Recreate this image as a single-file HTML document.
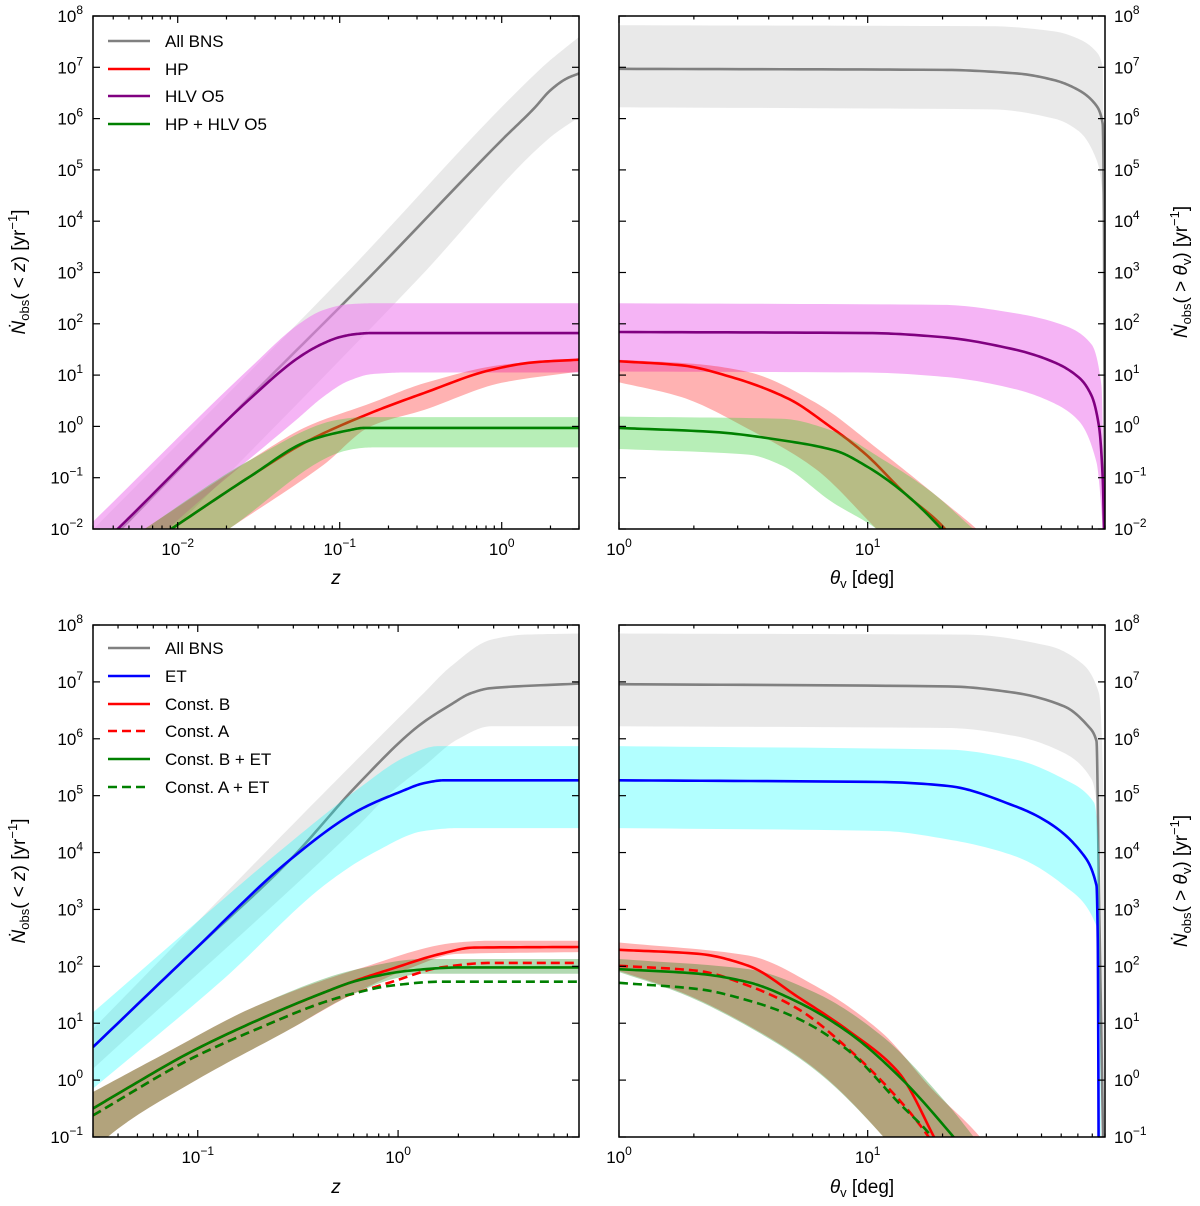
<!DOCTYPE html>
<html><head><meta charset="utf-8">
<style>
html,body{margin:0;padding:0;background:#fff;}
svg{display:block;font-family:"Liberation Sans","DejaVu Sans",sans-serif;}
</style></head>
<body>
<svg id="fig" xmlns="http://www.w3.org/2000/svg" width="1200" height="1206" viewBox="0 0 1200 1206">
<rect x="0" y="0" width="1200" height="1206" fill="#fff"/>
<g id="layer"></g>
<!-- axis titles -->
<g font-size="19" fill="#000">
 <text x="336" y="584" text-anchor="middle" font-style="italic">z</text>
 <text x="862" y="584" text-anchor="middle"><tspan font-style="italic">θ</tspan><tspan font-size="13" dy="4">v</tspan><tspan dy="-4"> [deg]</tspan></text>
 <text x="336" y="1193" text-anchor="middle" font-style="italic">z</text>
 <text x="862" y="1193" text-anchor="middle"><tspan font-style="italic">θ</tspan><tspan font-size="13" dy="4">v</tspan><tspan dy="-4"> [deg]</tspan></text>
 <text transform="translate(25,272) rotate(-90)" text-anchor="middle"><tspan font-style="italic">Ṅ</tspan><tspan font-size="13" dy="4">obs</tspan><tspan dy="-4">( &lt; </tspan><tspan font-style="italic">z</tspan><tspan>) [yr</tspan><tspan font-size="13" dy="-8">−1</tspan><tspan dy="8">]</tspan></text>
 <text transform="translate(25,881) rotate(-90)" text-anchor="middle"><tspan font-style="italic">Ṅ</tspan><tspan font-size="13" dy="4">obs</tspan><tspan dy="-4">( &lt; </tspan><tspan font-style="italic">z</tspan><tspan>) [yr</tspan><tspan font-size="13" dy="-8">−1</tspan><tspan dy="8">]</tspan></text>
 <text transform="translate(1187,272) rotate(-90)" text-anchor="middle"><tspan font-style="italic">Ṅ</tspan><tspan font-size="13" dy="4">obs</tspan><tspan dy="-4">( &gt; </tspan><tspan font-style="italic">θ</tspan><tspan font-size="13" dy="4">v</tspan><tspan dy="-4">) [yr</tspan><tspan font-size="13" dy="-8">−1</tspan><tspan dy="8">]</tspan></text>
 <text transform="translate(1187,881) rotate(-90)" text-anchor="middle"><tspan font-style="italic">Ṅ</tspan><tspan font-size="13" dy="4">obs</tspan><tspan dy="-4">( &gt; </tspan><tspan font-style="italic">θ</tspan><tspan font-size="13" dy="4">v</tspan><tspan dy="-4">) [yr</tspan><tspan font-size="13" dy="-8">−1</tspan><tspan dy="8">]</tspan></text>
</g>
<!-- legends -->
<g font-size="17" fill="#000" stroke-width="2.6">
 <g><line x1="108" x2="150" y1="41" y2="41" stroke="#808080"/><text x="165" y="47">All BNS</text></g>
 <g><line x1="108" x2="150" y1="69" y2="69" stroke="#ff0000"/><text x="165" y="75">HP</text></g>
 <g><line x1="108" x2="150" y1="96" y2="96" stroke="#800080"/><text x="165" y="102">HLV O5</text></g>
 <g><line x1="108" x2="150" y1="124" y2="124" stroke="#008000"/><text x="165" y="130">HP + HLV O5</text></g>
</g>
<g font-size="17" fill="#000" stroke-width="2.6">
 <g><line x1="108" x2="150" y1="648" y2="648" stroke="#808080"/><text x="165" y="654">All BNS</text></g>
 <g><line x1="108" x2="150" y1="676" y2="676" stroke="#0000ff"/><text x="165" y="682">ET</text></g>
 <g><line x1="108" x2="150" y1="704" y2="704" stroke="#ff0000"/><text x="165" y="710">Const. B</text></g>
 <g><line x1="108" x2="150" y1="731" y2="731" stroke="#ff0000" stroke-dasharray="9,5"/><text x="165" y="737">Const. A</text></g>
 <g><line x1="108" x2="150" y1="759" y2="759" stroke="#008000"/><text x="165" y="765">Const. B + ET</text></g>
 <g><line x1="108" x2="150" y1="787" y2="787" stroke="#008000" stroke-dasharray="9,5"/><text x="165" y="793">Const. A + ET</text></g>
</g>
</svg>
<script>
// ---------------- DATA (log10 values) ----------------
// Top-left: x = log10 z, y = log10 N
const tlGrayX=[-2.52,-1.53,-0.828,0.0,0.2,0.3,0.4,0.477];
const tlGrayY=[-2.55,0.65,2.87,5.58,6.2,6.55,6.78,6.88];
const tlGrayUpX=[-2.52,-0.994,0.25,0.397,0.477];
const tlGrayUpY=[-2.0,2.87,7.0,7.39,7.59];
const tlGrayLoX=[-2.52,-0.517,0.29,0.477];
const tlGrayLoY=[-3.6,2.87,5.61,6.03];
const tlHlvX=[-2.52,-2.374,-1.55,-1.25,-1.1,-1.0,-0.9,-0.8,0.477];
const tlHlvY=[-2.45,-2.01,0.55,1.35,1.62,1.74,1.80,1.82,1.82];
const tlHlvUpX=[-2.52,-1.55,-1.25,-1.1,-0.95,-0.8,0.477];
const tlHlvUpY=[-1.85,1.15,2.0,2.27,2.38,2.4,2.4];
const tlHlvLoX=[-2.52,-2.065,-1.26,-1.1,-0.95,-0.8,-0.6,0.477];
const tlHlvLoY=[-3.4,-2.01,0.15,0.58,0.88,1.02,1.05,1.05];
const tlHpX=[-2.52,-2.045,-1.55,-1.2,-0.81,-0.48,-0.067,0.2,0.477];
const tlHpY=[-3.0,-2.01,-0.97,-0.29,0.26,0.65,1.10,1.25,1.30];
const tlHpUpX=[-2.52,-2.21,-1.55,-1.2,-0.81,-0.48,0,0.477];
const tlHpUpY=[-2.66,-2.01,-0.65,0.0,0.45,0.84,1.2,1.33];
const tlHpLoX=[-2.52,-1.69,-1.1,-0.81,-0.48,0,0.477];
const tlHpLoY=[-3.8,-2.01,-0.75,0.0,0.32,0.85,1.07];
const tlBothX=[-2.52,-2.045,-1.55,-1.2,-0.95,-0.85,0.477];
const tlBothY=[-3.0,-2.01,-0.97,-0.29,-0.08,-0.03,-0.03];
const tlBothUpX=[-2.52,-2.21,-1.55,-1.01,-0.85,0.477];
const tlBothUpY=[-2.66,-2.01,-0.65,0.13,0.18,0.18];
const tlBothLoX=[-2.52,-1.69,-0.93,-0.8,0.477];
const tlBothLoY=[-3.8,-2.01,-0.45,-0.41,-0.41];
// Top-right: x = log10 theta_v
const trGrayX=[0,1.3,1.6,1.75,1.85,1.92,1.945,1.95,1.954];
const trGrayY=[6.97,6.95,6.88,6.75,6.55,6.25,5.9,4,-3];
const trGrayUpX=[0,1.5,1.75,1.85,1.92,1.945,1.954];
const trGrayUpY=[7.82,7.8,7.7,7.55,7.3,7.0,-3];
const trGrayLoX=[0,1.5,1.75,1.85,1.92,1.945,1.954];
const trGrayLoY=[6.22,6.18,6.0,5.75,5.2,4.5,-3];
const trHlvX=[0,1.0,1.3,1.59,1.75,1.85,1.9,1.93,1.945,1.954];
const trHlvY=[1.84,1.82,1.74,1.5,1.25,0.95,0.6,0.0,-1,-3];
const trHlvUpX=[0,1.3,1.6,1.8,1.9,1.94,1.954];
const trHlvUpY=[2.4,2.37,2.2,1.95,1.6,0.8,-3];
const trHlvLoX=[0,1.0,1.32,1.59,1.75,1.85,1.92,1.945,1.954];
const trHlvLoY=[1.07,1.05,0.96,0.73,0.45,0.1,-0.7,-2,-3];
const trHpX=[0,0.252,0.453,0.681,0.842,0.989,1.15,1.311,1.35];
const trHpY=[1.27,1.19,0.96,0.54,0.02,-0.53,-1.31,-2.0,-2.3];
const trHpUpX=[0,0.3,0.52,0.788,1.056,1.324,1.438,1.5];
const trHpUpY=[1.3,1.22,1.06,0.47,-0.5,-1.54,-2,-2.3];
const trHpLoX=[0,0.252,0.52,0.788,1.036,1.1];
const trHpLoY=[0.86,0.57,-0.05,-0.82,-2,-2.3];
const trBothX=[0,0.386,0.654,0.868,1.0,1.15,1.297,1.35];
const trBothY=[-0.03,-0.11,-0.27,-0.47,-0.79,-1.31,-2,-2.3];
const trBothUpX=[0,0.654,0.855,1.056,1.257,1.425,1.5];
const trBothUpY=[0.19,0.15,-0.08,-0.63,-1.28,-2,-2.3];
const trBothLoX=[0,0.52,0.654,0.855,1.036,1.1];
const trBothLoY=[-0.44,-0.55,-0.76,-1.47,-2,-2.3];
// Bottom-left: x = log10 z
const blGrayX=[-1.523,-1.037,-0.537,-0.2,0.1,0.263,0.363,0.463,0.903];
const blGrayY=[0.58,2.22,3.88,5.2,6.22,6.6,6.8,6.89,6.97];
const blGrayUpX=[-1.523,-0.37,0.13,0.263,0.463,0.63,0.903];
const blGrayUpY=[0.9,5.05,6.81,7.27,7.74,7.83,7.85];
const blGrayLoX=[-1.523,-0.2,-0.037,0.13,0.297,0.463,0.903];
const blGrayLoY=[0.2,4.47,5.05,5.52,5.99,6.22,6.22];
const blEtX=[-1.523,-1.037,-0.537,-0.203,0.013,0.13,0.23,0.903];
const blEtY=[0.58,2.22,3.88,4.73,5.07,5.22,5.27,5.27];
const blEtUpX=[-1.523,-0.537,-0.203,0.047,0.197,0.903];
const blEtUpY=[1.19,4.18,5.11,5.70,5.87,5.87];
const blEtLoX=[-1.523,-0.87,-0.37,-0.12,0.13,0.3,0.903];
const blEtLoY=[-0.15,1.78,3.42,4.0,4.38,4.43,4.43];
const blConstBX=[-1.523,-1.37,-1.037,-0.703,-0.37,-0.203,-0.037,0.213,0.38,0.903];
const blConstBY=[-0.5,-0.18,0.49,1.05,1.54,1.76,1.95,2.22,2.33,2.34];
const blConstAX=[-1.523,-1.037,-0.703,-0.37,-0.203,-0.037,0.213,0.463,0.903];
const blConstAY=[-0.62,0.37,0.90,1.37,1.54,1.72,1.98,2.06,2.06];
const blConstBEtX=[-1.523,-1.37,-1.037,-0.703,-0.37,-0.203,0.047,0.3,0.903];
const blConstBEtY=[-0.5,-0.18,0.49,1.05,1.54,1.75,1.92,1.98,1.98];
const blConstAEtX=[-1.523,-1.037,-0.703,-0.37,-0.203,-0.037,0.213,0.903];
const blConstAEtY=[-0.62,0.37,0.90,1.37,1.54,1.66,1.73,1.73];
const blConstBUpX=[-1.523,-1.2,-0.703,-0.203,0.297,0.463,0.903];
const blConstBUpY=[-0.21,0.40,1.31,1.95,2.42,2.45,2.45];
const blConstBLoX=[-1.523,-1.45,-1.037,-0.537,-0.237,0.047,0.3,0.903];
const blConstBLoY=[-1.3,-1.0,-0.06,0.90,1.49,1.95,2.22,2.25];
const blConstBEtUpX=[-1.523,-1.2,-0.703,-0.203,0.13,0.903];
const blConstBEtUpY=[-0.21,0.40,1.31,1.95,2.13,2.13];
const blConstBEtLoX=[-1.523,-1.45,-1.037,-0.537,-0.237,0.0,0.13,0.903];
const blConstBEtLoY=[-1.3,-1.0,-0.06,0.90,1.49,1.8,1.87,1.87];
// Bottom-right: x = log10 theta_v
const brGrayX=[0,1.324,1.59,1.79,1.887,1.92,1.93,1.954];
const brGrayY=[6.96,6.92,6.81,6.57,6.22,5.96,3.3,-3];
const brGrayUpX=[0,1.4,1.73,1.86,1.93,1.948,1.954];
const brGrayUpY=[7.85,7.83,7.63,7.33,6.8,5,-3];
const brGrayLoX=[0,1.324,1.59,1.79,1.9,1.93,1.954];
const brGrayLoY=[6.22,6.19,6.05,5.75,5.29,4.5,-3];
const brEtX=[0,1.056,1.324,1.59,1.726,1.86,1.92,1.925,1.93];
const brEtY=[5.27,5.24,5.17,4.82,4.53,4.0,3.42,2.5,-3];
const brEtUpX=[0,1.324,1.59,1.79,1.91,1.93,1.94];
const brEtUpY=[5.87,5.81,5.64,5.29,4.88,4,-3];
const brEtLoX=[0,1.056,1.324,1.59,1.79,1.92,1.93];
const brEtLoY=[4.43,4.38,4.23,3.94,3.42,2.71,-3];
const brConstBX=[0,0.319,0.52,0.72,0.922,1.123,1.27,1.3];
const brConstBY=[2.29,2.22,2.01,1.46,0.87,0.14,-1.03,-1.3];
const brConstAX=[0,0.319,0.52,0.72,0.922,1.123,1.25,1.3];
const brConstAY=[2.01,1.92,1.66,1.25,0.55,-0.33,-1.03,-1.4];
const brConstBEtX=[0,0.319,0.52,0.72,0.922,1.123,1.351,1.4];
const brConstBEtY=[1.95,1.87,1.72,1.37,0.84,0.08,-1.03,-1.3];
const brConstAEtX=[0,0.319,0.52,0.72,0.922,1.123,1.264,1.3];
const brConstAEtY=[1.71,1.60,1.40,1.08,0.52,-0.39,-1.03,-1.3];
const brConstBUpX=[0,0.52,0.788,1.056,1.257,1.458,1.5];
const brConstBUpY=[2.42,2.19,1.66,0.84,-0.15,-1.03,-1.3];
const brConstBLoX=[0,0.252,0.52,0.788,1.07,1.1];
const brConstBLoY=[1.92,1.54,0.96,0.20,-1.03,-1.2];
const brConstBEtUpX=[0,0.52,0.788,1.056,1.324,1.432,1.5];
const brConstBEtUpY=[2.13,1.95,1.54,0.78,-0.44,-1.03,-1.4];
const brConstBEtLoX=[0,0.252,0.52,0.788,1.07,1.1];
const brConstBEtLoY=[1.90,1.52,0.94,0.18,-1.03,-1.2];
// tick exponents
const topYTicks=[-2,-1,0,1,2,3,4,5,6,7,8];
const botYTicks=[-1,0,1,2,3,4,5,6,7,8];
const tlXTicks=[-2,-1,0];
const blXTicks=[-1,0];
const thXTicks=[0,1];

// ---------------- RENDERING ----------------
const NS='http://www.w3.org/2000/svg';
const layer=document.getElementById('layer');
function mk(tag,attrs,parent){const e=document.createElementNS(NS,tag);for(const k in attrs)e.setAttribute(k,attrs[k]);(parent||layer).appendChild(e);return e;}

const panels={
 tl:{x0:93,x1:579,y0:16,y1:529,lx0:Math.log10(0.003),lx1:Math.log10(3),ly0:-2,ly1:8},
 tr:{x0:619,x1:1105,y0:16,y1:529,lx0:0,lx1:Math.log10(90),ly0:-2,ly1:8},
 bl:{x0:93,x1:579,y0:625,y1:1137,lx0:Math.log10(0.03),lx1:Math.log10(8),ly0:-1,ly1:8},
 br:{x0:619,x1:1105,y0:625,y1:1137,lx0:0,lx1:Math.log10(90),ly0:-1,ly1:8}
};
function sx(p,v){return p.x0+(v-p.lx0)/(p.lx1-p.lx0)*(p.x1-p.x0);}
function sy(p,v){return p.y1-(v-p.ly0)/(p.ly1-p.ly0)*(p.y1-p.y0);}

// PCHIP-style (harmonic mean tangents) interpolation – no overshoot
function smooth(xs,ys){
 const n=xs.length;if(n<3)return xs.map((x,i)=>[x,ys[i]]);
 const d=[],m=new Array(n);
 for(let i=0;i<n-1;i++)d.push((ys[i+1]-ys[i])/(xs[i+1]-xs[i]));
 m[0]=d[0];m[n-1]=d[n-2];
 for(let i=1;i<n-1;i++){m[i]=(d[i-1]*d[i]<=0)?0:2/(1/d[i-1]+1/d[i]);}
 const out=[];
 for(let i=0;i<n-1;i++){
  const h=xs[i+1]-xs[i],N=16;
  for(let k=0;k<N;k++){
   const t=k/N,t2=t*t,t3=t2*t;
   const y=(2*t3-3*t2+1)*ys[i]+(t3-2*t2+t)*h*m[i]+(-2*t3+3*t2)*ys[i+1]+(t3-t2)*h*m[i+1];
   out.push([xs[i]+t*h,y]);
  }
 }
 out.push([xs[n-1],ys[n-1]]);
 return out;
}

const defs=mk('defs',{});
const groups={};
for(const k in panels){
 const p=panels[k];
 const cp=mk('clipPath',{id:'clip-'+k},defs);
 mk('rect',{x:p.x0,y:p.y0,width:p.x1-p.x0,height:p.y1-p.y0},cp);
 const g=mk('g',{'clip-path':'url(#clip-'+k+')'});
 
 
 groups[k]=g;
}
function band(k,ux,uy,lx,ly,fill,name){
 const p=panels[k];let d='';
 const up=smooth(ux,uy),lo=smooth(lx,ly);
 up.forEach((q,i)=>{d+=(i?'L':'M')+sx(p,q[0]).toFixed(2)+','+sy(p,q[1]).toFixed(2);});
 for(let i=lo.length-1;i>=0;i--)d+='L'+sx(p,lo[i][0]).toFixed(2)+','+sy(p,lo[i][1]).toFixed(2);
 const el=mk('path',{d:d+'Z',fill:fill,stroke:'none'},groups[k]);
 
 
}
function line(k,xs,ys,color,dash,name){
 const p=panels[k];let d='';
 smooth(xs,ys).forEach((q,i)=>{d+=(i?'L':'M')+sx(p,q[0]).toFixed(2)+','+sy(p,q[1]).toFixed(2);});
 const el=mk('path',{d:d,fill:'none',stroke:color,'stroke-width':2.6,'stroke-linejoin':'round'},groups[k]);
 if(dash)el.setAttribute('stroke-dasharray','9,5');
 
 
}
const C={grayF:'rgba(211,211,211,0.5)',gray:'#808080',vioF:'rgba(238,130,238,0.6)',pur:'#800080',redF:'rgba(255,0,0,0.3)',red:'#ff0000',limeF:'rgba(50,205,50,0.35)',grnF:'rgba(0,128,0,0.3)',grn:'#008000',cyanF:'rgba(0,255,255,0.3)',blue:'#0000ff'};

// top-left
band('tl',tlGrayUpX,tlGrayUpY,tlGrayLoX,tlGrayLoY,C.grayF,'all-bns-band');
line('tl',tlGrayX,tlGrayY,C.gray,false,'all-bns-line');
band('tl',tlHlvUpX,tlHlvUpY,tlHlvLoX,tlHlvLoY,C.vioF,'hlv-o5-band');
line('tl',tlHlvX,tlHlvY,C.pur,false,'hlv-o5-line');
band('tl',tlHpUpX,tlHpUpY,tlHpLoX,tlHpLoY,C.redF,'hp-band');
line('tl',tlHpX,tlHpY,C.red,false,'hp-line');
band('tl',tlBothUpX,tlBothUpY,tlBothLoX,tlBothLoY,C.limeF,'hp-hlv-band');
line('tl',tlBothX,tlBothY,C.grn,false,'hp-hlv-line');
// top-right
band('tr',trGrayUpX,trGrayUpY,trGrayLoX,trGrayLoY,C.grayF,'all-bns-band');
line('tr',trGrayX,trGrayY,C.gray,false,'all-bns-line');
band('tr',trHlvUpX,trHlvUpY,trHlvLoX,trHlvLoY,C.vioF,'hlv-o5-band');
line('tr',trHlvX,trHlvY,C.pur,false,'hlv-o5-line');
band('tr',trHpUpX,trHpUpY,trHpLoX,trHpLoY,C.redF,'hp-band');
line('tr',trHpX,trHpY,C.red,false,'hp-line');
band('tr',trBothUpX,trBothUpY,trBothLoX,trBothLoY,C.limeF,'hp-hlv-band');
line('tr',trBothX,trBothY,C.grn,false,'hp-hlv-line');
// bottom-left
band('bl',blGrayUpX,blGrayUpY,blGrayLoX,blGrayLoY,C.grayF,'all-bns-band');
line('bl',blGrayX,blGrayY,C.gray,false,'all-bns-line');
band('bl',blEtUpX,blEtUpY,blEtLoX,blEtLoY,C.cyanF,'et-band');
line('bl',blEtX,blEtY,C.blue,false,'et-line');
band('bl',blConstBUpX,blConstBUpY,blConstBLoX,blConstBLoY,C.redF,'const-b-band');
band('bl',blConstBEtUpX,blConstBEtUpY,blConstBEtLoX,blConstBEtLoY,C.grnF,'const-b-et-band');
line('bl',blConstBX,blConstBY,C.red,false,'const-b-line');
line('bl',blConstAX,blConstAY,C.red,true,'const-a-line');
line('bl',blConstBEtX,blConstBEtY,C.grn,false,'const-b-et-line');
line('bl',blConstAEtX,blConstAEtY,C.grn,true,'const-a-et-line');
// bottom-right
band('br',brGrayUpX,brGrayUpY,brGrayLoX,brGrayLoY,C.grayF,'all-bns-band');
line('br',brGrayX,brGrayY,C.gray,false,'all-bns-line');
band('br',brEtUpX,brEtUpY,brEtLoX,brEtLoY,C.cyanF,'et-band');
line('br',brEtX,brEtY,C.blue,false,'et-line');
band('br',brConstBUpX,brConstBUpY,brConstBLoX,brConstBLoY,C.redF,'const-b-band');
band('br',brConstBEtUpX,brConstBEtUpY,brConstBEtLoX,brConstBEtLoY,C.grnF,'const-b-et-band');
line('br',brConstBX,brConstBY,C.red,false,'const-b-line');
line('br',brConstAX,brConstAY,C.red,true,'const-a-line');
line('br',brConstBEtX,brConstBEtY,C.grn,false,'const-b-et-line');
line('br',brConstAEtX,brConstAEtY,C.grn,true,'const-a-et-line');

// axes, ticks, labels
function pow10(parent,x,y,exp,anchor){
 const t=mk('text',{x:x,y:y,'font-size':17,fill:'#000','text-anchor':anchor},parent);
 t.appendChild(document.createTextNode('10'));
 const s=mk('tspan',{dy:-8,'font-size':12},t);
 s.textContent=(exp<0?'\u2212'+(-exp):String(exp));
 return t;
}
function axes(k,xt,yt,ylabSide){
 const p=panels[k];
 const g=mk('g',{stroke:'#000','stroke-width':1.2});
 
 
 for(let d=Math.floor(p.lx0)-1;d<=Math.ceil(p.lx1);d++){
  for(let m=1;m<10;m++){
   const v=d+Math.log10(m);
   if(v<p.lx0-1e-6||v>p.lx1+1e-6)continue;
   const x=sx(p,v),L=(m===1)?7:3.5;
   mk('line',{x1:x,x2:x,y1:p.y1,y2:p.y1-L},g);
   mk('line',{x1:x,x2:x,y1:p.y0,y2:p.y0+L},g);
  }
 }
 for(const v of yt){
  const y=sy(p,v);
  mk('line',{x1:p.x0,x2:p.x0+7,y1:y,y2:y},g);
  mk('line',{x1:p.x1,x2:p.x1-7,y1:y,y2:y},g);
 }
 mk('rect',{x:p.x0,y:p.y0,width:p.x1-p.x0,height:p.y1-p.y0,fill:'none','stroke-width':1.5},g);
 const lg=mk('g',{});
 
 
 for(const v of xt){pow10(lg,sx(p,v),p.y1+26,v,'middle');}
 for(const v of yt){
  if(ylabSide==='left')pow10(lg,p.x0-10,sy(p,v)+6,v,'end');
  else pow10(lg,p.x1+9,sy(p,v)+6,v,'start');
 }
}
axes('tl',tlXTicks,topYTicks,'left');
axes('tr',thXTicks,topYTicks,'right');
axes('bl',blXTicks,botYTicks,'left');
axes('br',thXTicks,botYTicks,'right');
</script>
</body></html>
